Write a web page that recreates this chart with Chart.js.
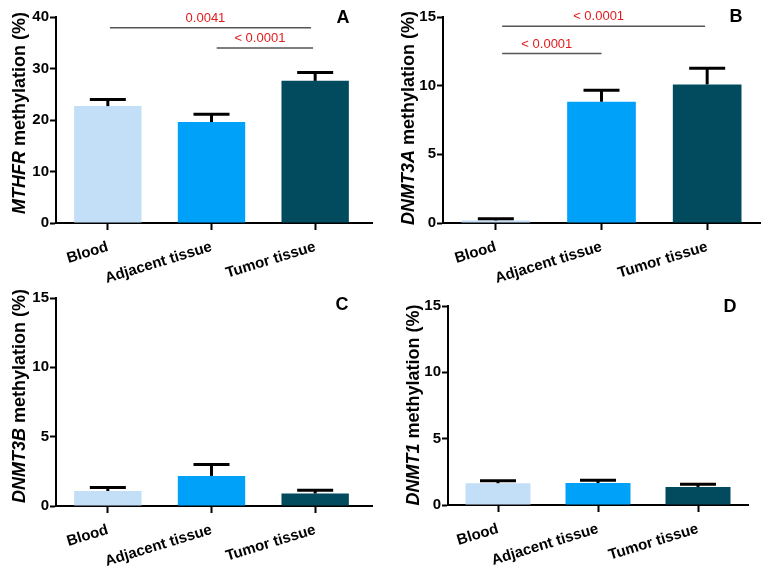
<!DOCTYPE html>
<html>
<head>
<meta charset="utf-8">
<script src="https://cdn.jsdelivr.net/npm/chart.js@4/dist/chart.umd.min.js"></script>
<style>
  html, body { margin: 0; padding: 0; background: #fff; }
  body { width: 765px; height: 576px; position: relative; overflow: hidden; }
  canvas { position: absolute; }
</style>
</head>
<body>
<canvas id="cA" width="380" height="290" style="left:0px;top:0px;"></canvas>
<canvas id="cB" width="385" height="290" style="left:380px;top:0px;"></canvas>
<canvas id="cC" width="380" height="291" style="left:0px;top:285px;"></canvas>
<canvas id="cD" width="385" height="291" style="left:380px;top:285px;"></canvas>
<script>
// ---------- data ----------
const categories = ['Blood', 'Adjacent tissue', 'Tumor tissue'];
const barColors = ['#C2DFF7', '#00A2F9', '#024B5F'];

const mthfrMean = [22.7, 19.6, 27.6];
const mthfrErr  = [1.3, 1.5, 1.6];

const dnmt3aMean = [0.19, 8.83, 10.09];
const dnmt3aErr  = [0.12, 0.84, 1.18];

const dnmt3bMean = [1.08, 2.17, 0.90];
const dnmt3bErr  = [0.25, 0.82, 0.23];

const dnmt1Mean = [1.64, 1.66, 1.36];
const dnmt1Err  = [0.19, 0.20, 0.20];

const mthfrBrackets  = [[0.02, 1.96, 37.9, '0.0041'], [1.05, 1.98, 34.0, '< 0.0001']];
const dnmt3aBrackets = [[0.06, 1.98, 14.32, '< 0.0001'], [0.06, 1.0, 12.34, '< 0.0001']];
const noBrackets = [];

// ---------- chart ----------
Chart.defaults.font.family = "'Liberation Sans', Arial, sans-serif";
Chart.defaults.color = '#000';

function makePanel(id, o) {
  const canvas = document.getElementById(id);
  const W = canvas.width, H = canvas.height;
  const extras = {
    id: 'extras' + id,
    afterDatasetsDraw(chart) {
      const ctx = chart.ctx;
      const xs = chart.scales.x, ys = chart.scales.y;
      const meta = chart.getDatasetMeta(0);
      ctx.save();
      // error bars (upper only)
      ctx.strokeStyle = '#000';
      ctx.lineWidth = 3;
      meta.data.forEach((bar, i) => {
        const top = ys.getPixelForValue(o.mean[i] + o.err[i]);
        ctx.beginPath();
        ctx.moveTo(bar.x, bar.y);
        ctx.lineTo(bar.x, top);
        ctx.stroke();
        ctx.beginPath();
        ctx.moveTo(bar.x - 18, top);
        ctx.lineTo(bar.x + 18, top);
        ctx.stroke();
      });
      // significance brackets
      o.brackets.forEach(b => {
        const x1 = xs.getPixelForValue(b[0]);
        const x2 = xs.getPixelForValue(b[1]);
        const y = ys.getPixelForValue(b[2]);
        ctx.strokeStyle = '#555';
        ctx.lineWidth = 1.5;
        ctx.beginPath();
        ctx.moveTo(x1, y);
        ctx.lineTo(x2, y);
        ctx.stroke();
        ctx.fillStyle = '#E31A1C';
        ctx.font = "13px 'Liberation Sans', Arial, sans-serif";
        ctx.textAlign = 'center';
        ctx.textBaseline = 'middle';
        ctx.fillText(b[3], (x1 + x2) / 2 - 5, y - 9.5);
      });
      ctx.restore();
    },
    afterDraw(chart) {
      const ctx = chart.ctx;
      const a = chart.chartArea;
      ctx.save();
      // extend x-axis line
      ctx.strokeStyle = '#000';
      ctx.lineWidth = 2;
      ctx.beginPath();
      ctx.moveTo(a.right - 1, a.bottom);
      ctx.lineTo(o.axisEnd, a.bottom);
      ctx.stroke();
      // panel letter
      ctx.fillStyle = '#000';
      ctx.font = "bold 18px 'Liberation Sans', Arial, sans-serif";
      ctx.textAlign = 'center';
      ctx.textBaseline = 'middle';
      ctx.fillText(o.letter, o.letterX, o.letterY);
      // y title with italic gene name
      ctx.translate(o.titleX, o.titleY);
      ctx.rotate(-Math.PI / 2);
      const fI = "italic bold 18px 'Liberation Sans', Arial, sans-serif";
      const fN = "bold 18px 'Liberation Sans', Arial, sans-serif";
      const rest = ' methylation (%)';
      ctx.font = fI; const w1 = ctx.measureText(o.gene).width;
      ctx.font = fN; const w2 = ctx.measureText(rest).width;
      let x0 = -(w1 + w2) / 2;
      ctx.textAlign = 'left';
      ctx.font = fI; ctx.fillText(o.gene, x0, 0);
      ctx.font = fN; ctx.fillText(rest, x0 + w1, 0);
      ctx.restore();
    }
  };
  return new Chart(canvas, {
    type: 'bar',
    data: {
      labels: categories,
      datasets: [{ data: o.mean, backgroundColor: barColors, borderWidth: 0,
                   barPercentage: 0.65, categoryPercentage: 1.0 }]
    },
    options: {
      responsive: false,
      animation: false,
      devicePixelRatio: 1,
      layout: { padding: { top: o.top, right: W - o.right, bottom: 0, left: 0 } },
      plugins: { legend: { display: false }, tooltip: { enabled: false }, title: { display: false } },
      scales: {
        x: {
          offset: true,
          grid: { display: true, drawOnChartArea: false, offset: false, tickLength: 7, tickWidth: 2, color: '#000' },
          border: { display: true, color: '#000', width: 2 },
          ticks: { font: { size: 15, weight: 'bold' }, color: '#000', minRotation: 17, maxRotation: 17, autoSkip: false, padding: 8 },
          afterFit(s) { s.height = H - o.bottom; }
        },
        y: {
          min: 0, max: o.max,
          grid: { display: true, drawOnChartArea: false, tickLength: 6, tickWidth: 2, color: '#000' },
          border: { display: true, color: '#000', width: 2 },
          ticks: { stepSize: o.step, font: { size: 15, weight: 'bold' }, color: '#000', padding: 1 },
          afterFit(s) { s.width = o.left; }
        }
      }
    },
    plugins: [extras]
  });
}

makePanel('cA', { mean: mthfrMean, err: mthfrErr, brackets: mthfrBrackets, gene: 'MTHFR',
  max: 40, step: 10, left: 56, right: 367, top: 17, bottom: 223, axisEnd: 373,
  letter: 'A', letterX: 343, letterY: 18, titleX: 20, titleY: 113 });
makePanel('cB', { mean: dnmt3aMean, err: dnmt3aErr, brackets: dnmt3aBrackets, gene: 'DNMT3A',
  max: 15, step: 5, left: 63, right: 380, top: 17, bottom: 223, axisEnd: 381,
  letter: 'B', letterX: 356, letterY: 17, titleX: 29, titleY: 118 });
makePanel('cC', { mean: dnmt3bMean, err: dnmt3bErr, brackets: noBrackets, gene: 'DNMT3B',
  max: 15, step: 5, left: 56, right: 367, top: 13, bottom: 221, axisEnd: 373,
  letter: 'C', letterX: 342, letterY: 20, titleX: 20, titleY: 111 });
makePanel('cD', { mean: dnmt1Mean, err: dnmt1Err, brackets: noBrackets, gene: 'DNMT1',
  max: 15, step: 5, left: 68, right: 368, top: 21, bottom: 220, axisEnd: 368,
  letter: 'D', letterX: 350, letterY: 22, titleX: 34, titleY: 120 });
</script>
</body>
</html>
